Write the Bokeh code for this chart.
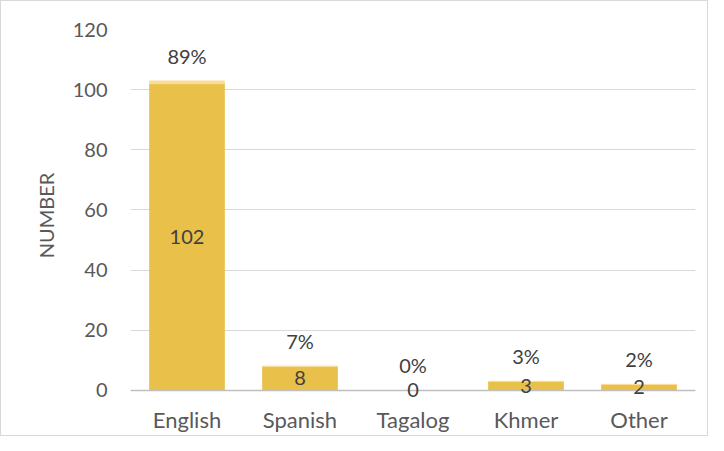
from bokeh.plotting import figure
from bokeh.models import ColumnDataSource, FactorRange, Range1d, FixedTicker, LabelSet, Span
from bokeh.core.properties import value
from bokeh.embed import file_html
from bokeh.resources import INLINE

categories = ["English", "Spanish", "Tagalog", "Khmer", "Other"]
numbers = [102, 8, 0, 3, 2]
percents = [0.89, 0.07, 0.00, 0.03, 0.02]
y_ticks = [0, 20, 40, 60, 80, 100, 120]

FONT = "Lato"
BAR = "#E9C14A"
BAR_LIGHT = "#FBDD9A"
TXT = "#595959"
LBL = "#404040"

src = ColumnDataSource(dict(
    cat=categories,
    num=numbers,
    pct=percents,
    top=[n + q for n, q in zip(numbers, percents)],
    mid=[n / 2 for n in numbers],
    num_label=[str(n) for n in numbers],
    pct_label=[f"{round(q * 100)}%" for q in percents],
))

# a little room below zero so the in-bar labels near the baseline are not clipped
p = figure(x_range=FactorRange(*categories), y_range=Range1d(-3.66, 120),
           frame_width=565, frame_height=372,
           min_border_left=129, min_border_right=12, min_border_top=28, min_border_bottom=33,
           output_backend="svg", toolbar_location=None)
p.styles = {"border": "1px solid #D9D9D9"}

p.vbar(x="cat", bottom=0, top="num", width=0.66, color=BAR, source=src)
p.vbar(x="cat", bottom="num", top="top", width=0.66, color=BAR_LIGHT, source=src)

p.add_layout(Span(location=0, dimension="width", line_color="#BFBFBF", line_width=1.5))

num_labels = LabelSet(x="cat", y="mid", text="num_label", source=src, text_align="center",
                      text_baseline="middle", text_font=value(FONT), text_font_size="20px",
                      text_color=LBL, level="overlay")
pct_labels = LabelSet(x="cat", y="top", text="pct_label", source=src, text_align="center",
                      text_baseline="middle", y_offset=25, text_font=value(FONT),
                      text_font_size="20px", text_color=LBL, level="overlay")
p.add_layout(num_labels)
p.add_layout(pct_labels)

p.outline_line_color = None
p.xgrid.grid_line_color = None
p.ygrid.grid_line_color = "#D9D9D9"
p.ygrid.grid_line_width = 1

p.yaxis.ticker = FixedTicker(ticks=y_ticks)
p.yaxis.axis_line_color = None
p.yaxis.major_tick_line_color = None
p.yaxis.minor_tick_line_color = None
p.yaxis.major_label_standoff = 17
p.yaxis.major_label_text_font = FONT
p.yaxis.major_label_text_font_size = "20px"
p.yaxis.major_label_text_color = TXT
p.yaxis.axis_label = "NUMBER"
p.yaxis.axis_label_text_font = FONT
p.yaxis.axis_label_text_font_size = "20px"
p.yaxis.axis_label_text_font_style = "normal"
p.yaxis.axis_label_text_color = TXT
p.yaxis.axis_label_standoff = 12

p.xaxis.axis_line_color = None
p.xaxis.major_tick_line_color = None
p.xaxis.minor_tick_line_color = None
p.xaxis.major_label_standoff = -2
p.xaxis.major_label_text_font = FONT
p.xaxis.major_label_text_font_size = "22px"
p.xaxis.major_label_text_color = TXT

open("out.html", "w").write(file_html(p, INLINE))
